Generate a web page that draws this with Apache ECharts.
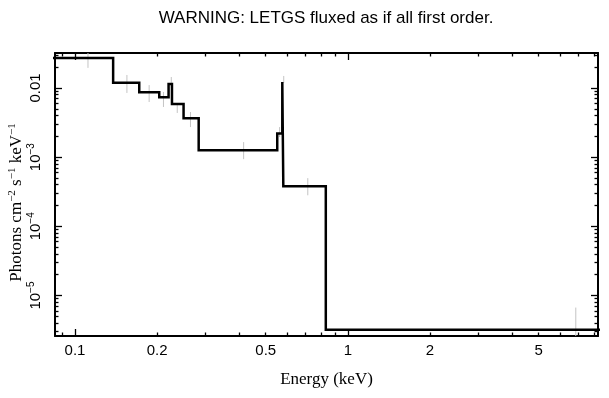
<!DOCTYPE html>
<html>
<head>
<meta charset="utf-8">
<script src="https://cdn.jsdelivr.net/npm/echarts@6/dist/echarts.min.js"></script>
<style>
  html, body { margin: 0; padding: 0; background: #fff; }
  #chart { width: 609px; height: 398px; }
</style>
</head>
<body>
<div id="chart"></div>
<script>
'use strict';
// LETGS unfolded spectrum — step model + grey error bars on log/log axes

// ── data ──────────────────────────────────────────────────────────────────
// bin edges (keV) and model flux per bin (photons cm^-2 s^-1 keV^-1)
const binEdges = [0.08, 0.138, 0.172, 0.2036, 0.2203, 0.2267, 0.250, 0.284, 0.551, 0.575, 0.580, 0.83, 9];
const binFlux = [0.0272, 0.0119, 0.00866, 0.00733, 0.0114, 0.00586, 0.00364, 0.00126, 0.0022, 0.0122, 0.00038, 3.21e-6];

// data points: energy, lower and upper flux of the error bar
const errEnergy = [0.1116, 0.155, 0.187, 0.211, 0.2254, 0.237, 0.265, 0.415, 0.562, 0.582, 0.713, 6.84];
const errLow = [0.0195, 0.00847, 0.00626, 0.00531, 0.0100, 0.00435, 0.00272, 0.000935, 0.00195, 0.0118, 0.000281, 2.0e-6];
const errHigh = [0.034, 0.0154, 0.0110, 0.00875, 0.0144, 0.00568, 0.00449, 0.00165, 0.00272, 0.0149, 0.000497, 6.7e-6];

// ticks
const xLabelVals = [0.1, 0.2, 0.5, 1, 2, 5];
const xMajorTicks = [0.1, 1];
const xMinorTicks = [0.09, 0.2, 0.3, 0.4, 0.5, 0.6, 0.7, 0.8, 0.9, 2, 3, 4, 5, 6, 7, 8];
const yMajorTicks = [1e-5, 1e-4, 1e-3, 0.01];
const yLabelBase = ['10', '10', '10', '0.01'];
const yLabelExp = ['−5', '−4', '−3', ''];
const yMinorTicks = [3e-6, 4e-6, 5e-6, 6e-6, 7e-6, 8e-6, 9e-6,
  2e-5, 3e-5, 4e-5, 5e-5, 6e-5, 7e-5, 8e-5, 9e-5,
  2e-4, 3e-4, 4e-4, 5e-4, 6e-4, 7e-4, 8e-4, 9e-4,
  2e-3, 3e-3, 4e-3, 5e-3, 6e-3, 7e-3, 8e-3, 9e-3, 0.02, 0.03];

const X_MIN = 0.0845, X_MAX = 8.25;
const Y_MIN = 2.6e-6, Y_MAX = 0.032;

const SANS = "'Liberation Sans', Arial, sans-serif";
const SERIF = "'Liberation Serif', 'Times New Roman', serif";

// ── helpers ───────────────────────────────────────────────────────────────
function sameLog(a, b) { return Math.abs(Math.log10(a) - Math.log10(b)) < 1e-6; }
function yLabel(v) {
  const i = yMajorTicks.findIndex(t => sameLog(t, v));
  if (i < 0) return '';
  return '{m|' + yLabelBase[i] + '}' + (yLabelExp[i] ? '{s|' + yLabelExp[i] + '}' : '');
}

function stepPoints() {
  const pts = [];
  binFlux.forEach((v, i) => { pts.push([binEdges[i], v], [binEdges[i + 1], v]); });
  return pts;
}

function xAxisCfg(pos, major) {
  return {
    type: 'log', position: pos, min: X_MIN, max: X_MAX,
    axisLine: { show: major, lineStyle: { color: '#000', width: 2 } },
    axisTick: { show: true, inside: true, length: major ? 7 : 3.5, customValues: major ? xMajorTicks : xMinorTicks, lineStyle: { color: '#000', width: 1.3 } },
    axisLabel: { show: false },
    splitLine: { show: false }
  };
}
function yAxisCfg(pos, major) {
  return {
    type: 'log', position: pos, min: Y_MIN, max: Y_MAX,
    axisLine: { show: major, lineStyle: { color: '#000', width: 2 } },
    axisTick: { show: true, inside: true, length: major ? 7 : 3.5, customValues: major ? yMajorTicks : yMinorTicks, lineStyle: { color: '#000', width: 1.3 } },
    axisLabel: { show: false },
    splitLine: { show: false }
  };
}

const xMain = xAxisCfg('bottom', true);
xMain.axisLabel = {
  show: true, customValues: xLabelVals, margin: 7, color: '#000', fontFamily: SANS, fontSize: 15,
  formatter: v => String(+v.toPrecision(3))
};
xMain.name = 'Energy (keV)';
xMain.nameLocation = 'middle';
xMain.nameGap = 35;
xMain.nameMoveOverlap = false;
xMain.nameTextStyle = { fontFamily: SERIF, fontSize: 17, color: '#000' };

const yMain = yAxisCfg('left', true);
yMain.axisLabel = {
  show: true, customValues: yMajorTicks, margin: 9, rotate: 90, color: '#000', fontFamily: SANS, fontSize: 15,
  formatter: yLabel,
  rich: {
    m: { fontFamily: SANS, fontSize: 15, color: '#000', lineHeight: 20 },
    s: { fontFamily: SANS, fontSize: 10, color: '#000', verticalAlign: 'top', lineHeight: 12 }
  }
};
yMain.name = '{n|Photons cm}{s|−2}{n| s}{s|−1}{n| keV}{s|−1}';
yMain.nameLocation = 'middle';
yMain.nameGap = 28;
yMain.nameMoveOverlap = false;
yMain.nameTextStyle = {
  fontFamily: SERIF, fontSize: 17, color: '#000', padding: [0, 16, 0, 0],
  rich: {
    n: { fontFamily: SERIF, fontSize: 17, color: '#000', lineHeight: 20 },
    s: { fontFamily: SERIF, fontSize: 11, color: '#000', verticalAlign: 'top', lineHeight: 12 }
  }
};

const option = {
  animation: false,
  backgroundColor: '#fff',
  grid: { left: 55, right: 11, top: 53, bottom: 62, containLabel: false, outerBoundsMode: 'none' },
  graphic: [{
    type: 'text', x: 326, y: 18,
    style: { text: 'WARNING: LETGS fluxed as if all first order.', align: 'center', verticalAlign: 'middle', font: '17px ' + SANS, fill: '#000' }
  }],
  xAxis: [xMain, xAxisCfg('top', true), xAxisCfg('bottom', false), xAxisCfg('top', false)],
  yAxis: [yMain, yAxisCfg('right', true), yAxisCfg('left', false), yAxisCfg('right', false)],
  series: [
    {
      type: 'custom', clip: true, z: 1,
      data: errEnergy.map((e, i) => [e, errLow[i], errHigh[i]]),
      encode: { x: 0, y: [1, 2] },
      renderItem: (params, api) => {
        const a = api.coord([api.value(0), api.value(1)]);
        const b = api.coord([api.value(0), api.value(2)]);
        return { type: 'line', shape: { x1: a[0], y1: a[1], x2: b[0], y2: b[1] }, style: { stroke: '#c4c4c4', lineWidth: 1 } };
      }
    },
    {
      type: 'line', z: 3, clip: true, symbol: 'none',
      data: stepPoints(),
      lineStyle: { color: '#000', width: 2.5, join: 'miter' }
    }
  ]
};

const chart = echarts.init(document.getElementById('chart'), null, { renderer: 'canvas' });
chart.setOption(option);
window.addEventListener('resize', () => chart.resize());
</script>
</body>
</html>
